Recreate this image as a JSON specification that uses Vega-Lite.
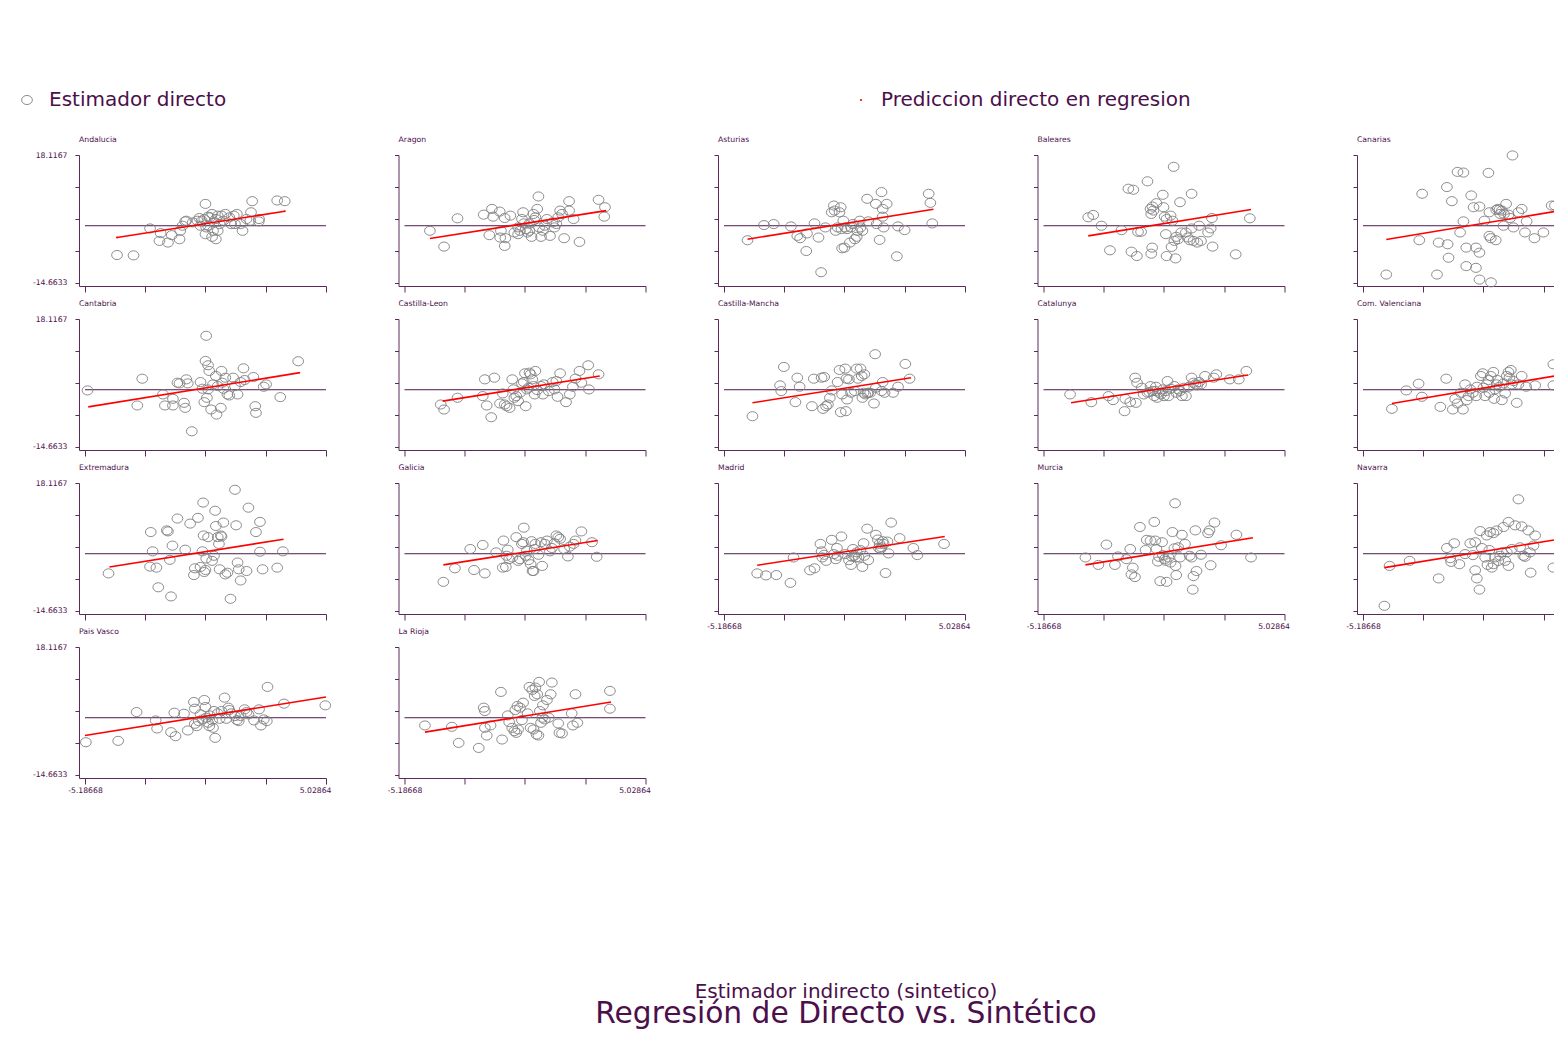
{
"$schema": "https://vega.github.io/schema/vega-lite/v6.json",
"background": "white",
"padding": {"left": 17, "top": 90, "right": 0, "bottom": 0},
"autosize": {"type": "pad"},
"columns": 5,
"spacing": {"row": 33, "column": 72.5},
"bounds": "flush",
"config": {
  "font": "DejaVu Sans",
  "view": {"stroke": null},
  "axis": {"grid": false, "domainColor": "#5b2a5b", "tickColor": "#5b2a5b", "labelColor": "#4b0f4b", "labelFont": "DejaVu Sans", "labelFontSize": 7.7, "domainWidth": 1, "tickWidth": 1},
  "axisX": {"tickSize": 6, "labelPadding": 2, "labelAngle": 0, "labelFlushOffset": 5},
  "axisY": {"tickSize": 4, "labelPadding": 8},
  "title": {"anchor": "start", "frame": "group", "fontSize": 7.7, "font": "DejaVu Sans", "fontWeight": "normal", "color": "#4b0f4b"},
  "legend": {"labelFont": "DejaVu Sans", "labelFontSize": 20, "labelColor": "#4b0f4b", "labelLimit": 600, "padding": 0}
},
"title": {"text": "Estimador indirecto (sintetico)", "subtitle": "Regresión de Directo vs. Sintético", "orient": "bottom", "anchor": "middle", "frame": "bounds", "offset": 188, "dx": 33, "fontSize": 20, "subtitleFontSize": 29.7, "font": "DejaVu Sans", "subtitleFont": "DejaVu Sans", "fontWeight": "normal", "color": "#4b0f4b", "subtitleColor": "#4b0f4b", "subtitlePadding": -2},
"datasets": {
"fit": [
{"r":"Andalucia","x":-3.83,"y":-3.02},{"r":"Andalucia","x":3.28,"y":3.71},
{"r":"Aragon","x":-4.11,"y":-3.28},{"r":"Aragon","x":3.36,"y":3.88},
{"r":"Asturias","x":-4.19,"y":-3.45},{"r":"Asturias","x":3.69,"y":4.22},
{"r":"Baleares","x":-3.29,"y":-2.59},{"r":"Baleares","x":3.61,"y":4.14},
{"r":"Canarias","x":-4.2,"y":-3.53},{"r":"Canarias","x":3.5,"y":4.2},
{"r":"Cantabria","x":-5.05,"y":-4.38},{"r":"Cantabria","x":3.93,"y":4.38},
{"r":"Castilla-Leon","x":-3.57,"y":-2.92},{"r":"Castilla-Leon","x":3.09,"y":3.52},
{"r":"Castilla-Mancha","x":-3.98,"y":-3.35},{"r":"Castilla-Mancha","x":2.74,"y":3.09},
{"r":"Catalunya","x":-4.02,"y":-3.35},{"r":"Catalunya","x":3.48,"y":3.78},
{"r":"Com. Valenciana","x":-3.96,"y":-3.52},{"r":"Com. Valenciana","x":3.4,"y":4.0},
{"r":"Extremadura","x":-4.15,"y":-3.38},{"r":"Extremadura","x":3.23,"y":3.73},
{"r":"Galicia","x":-3.54,"y":-2.86},{"r":"Galicia","x":3.0,"y":3.38},
{"r":"Madrid","x":-3.78,"y":-2.95},{"r":"Madrid","x":4.17,"y":4.42},
{"r":"Murcia","x":-3.41,"y":-2.86},{"r":"Murcia","x":3.69,"y":4.08},
{"r":"Navarra","x":-4.28,"y":-3.55},{"r":"Navarra","x":3.5,"y":4.1},
{"r":"Pais Vasco","x":-5.19,"y":-4.55},{"r":"Pais Vasco","x":5.03,"y":5.32},
{"r":"La Rioja","x":-4.32,"y":-3.69},{"r":"La Rioja","x":3.57,"y":4.03}
],
"pts": [
{"r":"Andalucia","x":-3.83,"y":-7.5},{"r":"Andalucia","x":-3.13,"y":-7.59},{"r":"Andalucia","x":-2.43,"y":-0.69},{"r":"Andalucia","x":-1.98,"y":-1.9},{"r":"Andalucia","x":-2.03,"y":-3.88},{"r":"Andalucia","x":-1.67,"y":-4.31},{"r":"Andalucia","x":-1.51,"y":-2.41},{"r":"Andalucia","x":-1.18,"y":-3.45},{"r":"Andalucia","x":-1.15,"y":-1.29},{"r":"Andalucia","x":-1.05,"y":0},{"r":"Andalucia","x":-0.94,"y":1.12},{"r":"Andalucia","x":-0.89,"y":1.29},{"r":"Andalucia","x":-0.42,"y":1.29},{"r":"Andalucia","x":-0.34,"y":1.98},{"r":"Andalucia","x":-0.24,"y":1.29},{"r":"Andalucia","x":-0.13,"y":1.72},{"r":"Andalucia","x":-0.08,"y":5.6},{"r":"Andalucia","x":-0.05,"y":-0.43},{"r":"Andalucia","x":-0.08,"y":-2.16},{"r":"Andalucia","x":0.03,"y":2.33},{"r":"Andalucia","x":0.11,"y":2.16},{"r":"Andalucia","x":0.2,"y":3.02},{"r":"Andalucia","x":0.28,"y":0.86},{"r":"Andalucia","x":0.36,"y":1.72},{"r":"Andalucia","x":0.44,"y":2.59},{"r":"Andalucia","x":0.24,"y":-1.29},{"r":"Andalucia","x":0.2,"y":-2.84},{"r":"Andalucia","x":0.36,"y":-3.45},{"r":"Andalucia","x":0.44,"y":-1.29},{"r":"Andalucia","x":0.6,"y":2.59},{"r":"Andalucia","x":0.68,"y":1.29},{"r":"Andalucia","x":0.76,"y":3.02},{"r":"Andalucia","x":1.12,"y":2.59},{"r":"Andalucia","x":1.25,"y":3.02},{"r":"Andalucia","x":1.17,"y":0.43},{"r":"Andalucia","x":1.41,"y":0.43},{"r":"Andalucia","x":1.49,"y":-1.29},{"r":"Andalucia","x":1.66,"y":1.72},{"r":"Andalucia","x":1.85,"y":3.45},{"r":"Andalucia","x":1.9,"y":6.29},{"r":"Andalucia","x":1.82,"y":1.29},{"r":"Andalucia","x":2.18,"y":1.12},{"r":"Andalucia","x":2.19,"y":1.72},{"r":"Andalucia","x":2.96,"y":6.47},{"r":"Andalucia","x":3.28,"y":6.29},{"r":"Andalucia","x":-0.62,"y":0.86},{"r":"Andalucia","x":-0.29,"y":0},{"r":"Andalucia","x":0.03,"y":0},{"r":"Andalucia","x":0.52,"y":0.43},{"r":"Andalucia","x":0.93,"y":2.16},{"r":"Andalucia","x":1.01,"y":0.43},
{"r":"Aragon","x":-4.11,"y":-1.29},{"r":"Aragon","x":-3.51,"y":-5.34},{"r":"Aragon","x":-2.94,"y":1.9},{"r":"Aragon","x":-1.83,"y":2.84},{"r":"Aragon","x":-1.48,"y":4.31},{"r":"Aragon","x":-1.43,"y":2.33},{"r":"Aragon","x":-1.15,"y":3.62},{"r":"Aragon","x":-0.94,"y":1.98},{"r":"Aragon","x":-0.7,"y":2.59},{"r":"Aragon","x":-1.59,"y":-2.41},{"r":"Aragon","x":-1.13,"y":-3.02},{"r":"Aragon","x":-0.94,"y":-5.17},{"r":"Aragon","x":-0.91,"y":-3.19},{"r":"Aragon","x":-1.1,"y":-1.29},{"r":"Aragon","x":-0.53,"y":-1.72},{"r":"Aragon","x":-0.37,"y":-2.16},{"r":"Aragon","x":-0.29,"y":-1.29},{"r":"Aragon","x":-0.21,"y":1.72},{"r":"Aragon","x":-0.16,"y":3.45},{"r":"Aragon","x":-0.05,"y":-0.86},{"r":"Aragon","x":0.03,"y":-1.72},{"r":"Aragon","x":0.11,"y":-1.29},{"r":"Aragon","x":0.2,"y":-2.84},{"r":"Aragon","x":0.28,"y":3.02},{"r":"Aragon","x":0.31,"y":1.47},{"r":"Aragon","x":0.36,"y":2.16},{"r":"Aragon","x":0.44,"y":4.31},{"r":"Aragon","x":0.49,"y":7.5},{"r":"Aragon","x":0.52,"y":-0.43},{"r":"Aragon","x":0.6,"y":-2.84},{"r":"Aragon","x":0.68,"y":-1.29},{"r":"Aragon","x":0.85,"y":1.72},{"r":"Aragon","x":0.98,"y":-2.59},{"r":"Aragon","x":1.17,"y":-0.43},{"r":"Aragon","x":1.25,"y":0.43},{"r":"Aragon","x":1.33,"y":2.16},{"r":"Aragon","x":1.41,"y":3.88},{"r":"Aragon","x":1.49,"y":3.02},{"r":"Aragon","x":1.58,"y":-3.19},{"r":"Aragon","x":1.79,"y":6.29},{"r":"Aragon","x":1.79,"y":3.88},{"r":"Aragon","x":1.98,"y":1.72},{"r":"Aragon","x":2.23,"y":-4.14},{"r":"Aragon","x":3.04,"y":6.64},{"r":"Aragon","x":3.31,"y":4.74},{"r":"Aragon","x":3.28,"y":2.33},{"r":"Aragon","x":-0.13,"y":0.6},{"r":"Aragon","x":0.11,"y":0.6},{"r":"Aragon","x":0.76,"y":0},{"r":"Aragon","x":1.09,"y":0.86},{"r":"Aragon","x":-0.37,"y":-0.43},
{"r":"Asturias","x":-4.19,"y":-3.71},{"r":"Asturias","x":-3.49,"y":0.17},{"r":"Asturias","x":-3.08,"y":0.43},{"r":"Asturias","x":-2.35,"y":-0.17},{"r":"Asturias","x":-2.08,"y":-2.59},{"r":"Asturias","x":-1.96,"y":-3.19},{"r":"Asturias","x":-1.67,"y":-1.98},{"r":"Asturias","x":-1.7,"y":-6.47},{"r":"Asturias","x":-1.35,"y":0.6},{"r":"Asturias","x":-1.18,"y":-3.02},{"r":"Asturias","x":-1.07,"y":-11.9},{"r":"Asturias","x":-0.89,"y":-0.43},{"r":"Asturias","x":-0.62,"y":3.45},{"r":"Asturias","x":-0.53,"y":5.17},{"r":"Asturias","x":-0.5,"y":3.88},{"r":"Asturias","x":-0.45,"y":-1.29},{"r":"Asturias","x":-0.24,"y":4.74},{"r":"Asturias","x":-0.29,"y":3.45},{"r":"Asturias","x":-0.21,"y":-0.86},{"r":"Asturias","x":-0.13,"y":1.29},{"r":"Asturias","x":-0.18,"y":-5.78},{"r":"Asturias","x":-0.08,"y":-5.6},{"r":"Asturias","x":-0.05,"y":-0.43},{"r":"Asturias","x":0.03,"y":-0.86},{"r":"Asturias","x":0.15,"y":-4.31},{"r":"Asturias","x":0.36,"y":-3.45},{"r":"Asturias","x":0.44,"y":-2.84},{"r":"Asturias","x":0.47,"y":-1.29},{"r":"Asturias","x":0.57,"y":1.29},{"r":"Asturias","x":0.6,"y":-0.43},{"r":"Asturias","x":0.68,"y":-1.29},{"r":"Asturias","x":0.88,"y":6.9},{"r":"Asturias","x":0.93,"y":1.12},{"r":"Asturias","x":1.25,"y":5.6},{"r":"Asturias","x":1.28,"y":0.43},{"r":"Asturias","x":1.41,"y":-3.62},{"r":"Asturias","x":1.49,"y":8.62},{"r":"Asturias","x":1.54,"y":4.31},{"r":"Asturias","x":1.54,"y":2.33},{"r":"Asturias","x":1.58,"y":-0.43},{"r":"Asturias","x":1.71,"y":5.6},{"r":"Asturias","x":2.14,"y":-7.84},{"r":"Asturias","x":2.19,"y":-0.17},{"r":"Asturias","x":2.47,"y":-1.12},{"r":"Asturias","x":3.49,"y":8.19},{"r":"Asturias","x":3.56,"y":5.86},{"r":"Asturias","x":3.64,"y":0.6},{"r":"Asturias","x":0.2,"y":-0.43},{"r":"Asturias","x":0.28,"y":0.43},{"r":"Asturias","x":-0.37,"y":-0.43},
{"r":"Baleares","x":-3.29,"y":2.16},{"r":"Baleares","x":-3.08,"y":2.76},{"r":"Baleares","x":-2.73,"y":0},{"r":"Baleares","x":-2.37,"y":-6.29},{"r":"Baleares","x":-1.88,"y":-1.12},{"r":"Baleares","x":-1.59,"y":9.48},{"r":"Baleares","x":-1.38,"y":9.22},{"r":"Baleares","x":-1.46,"y":-6.64},{"r":"Baleares","x":-1.23,"y":-7.76},{"r":"Baleares","x":-1.18,"y":-1.55},{"r":"Baleares","x":-1.05,"y":-1.55},{"r":"Baleares","x":-0.78,"y":11.38},{"r":"Baleares","x":-0.65,"y":4.31},{"r":"Baleares","x":-0.62,"y":3.02},{"r":"Baleares","x":-0.57,"y":4.91},{"r":"Baleares","x":-0.53,"y":3.88},{"r":"Baleares","x":-0.4,"y":5.78},{"r":"Baleares","x":-0.58,"y":-5.6},{"r":"Baleares","x":-0.62,"y":-7.16},{"r":"Baleares","x":-0.13,"y":7.93},{"r":"Baleares","x":-0.1,"y":4.74},{"r":"Baleares","x":-0.05,"y":2.33},{"r":"Baleares","x":0.03,"y":1.72},{"r":"Baleares","x":0.0,"y":-2.16},{"r":"Baleares","x":0.03,"y":-7.76},{"r":"Baleares","x":0.24,"y":-5.43},{"r":"Baleares","x":0.36,"y":-3.88},{"r":"Baleares","x":0.41,"y":-8.36},{"r":"Baleares","x":0.33,"y":15.09},{"r":"Baleares","x":0.2,"y":2.59},{"r":"Baleares","x":0.28,"y":1.29},{"r":"Baleares","x":0.44,"y":-2.84},{"r":"Baleares","x":0.52,"y":-3.45},{"r":"Baleares","x":0.6,"y":6.03},{"r":"Baleares","x":0.65,"y":-1.72},{"r":"Baleares","x":0.85,"y":-1.72},{"r":"Baleares","x":0.93,"y":-3.02},{"r":"Baleares","x":1.01,"y":-3.71},{"r":"Baleares","x":1.09,"y":8.19},{"r":"Baleares","x":1.09,"y":-0.69},{"r":"Baleares","x":1.17,"y":-3.88},{"r":"Baleares","x":1.33,"y":-4.31},{"r":"Baleares","x":1.41,"y":0},{"r":"Baleares","x":1.49,"y":-3.88},{"r":"Baleares","x":1.79,"y":-1.72},{"r":"Baleares","x":1.9,"y":-0.69},{"r":"Baleares","x":1.95,"y":1.98},{"r":"Baleares","x":1.98,"y":-5.34},{"r":"Baleares","x":2.96,"y":-7.33},{"r":"Baleares","x":3.56,"y":1.9},
{"r":"Canarias","x":-4.2,"y":-12.5},{"r":"Canarias","x":-2.8,"y":-3.71},{"r":"Canarias","x":-2.68,"y":8.19},{"r":"Canarias","x":-2.05,"y":-12.5},{"r":"Canarias","x":-1.98,"y":-4.31},{"r":"Canarias","x":-1.63,"y":9.91},{"r":"Canarias","x":-1.6,"y":-4.74},{"r":"Canarias","x":-1.56,"y":-8.19},{"r":"Canarias","x":-1.42,"y":6.29},{"r":"Canarias","x":-1.18,"y":13.79},{"r":"Canarias","x":-0.93,"y":13.62},{"r":"Canarias","x":-1.07,"y":-1.72},{"r":"Canarias","x":-0.93,"y":1.12},{"r":"Canarias","x":-0.81,"y":-5.6},{"r":"Canarias","x":-0.81,"y":-10.34},{"r":"Canarias","x":-0.6,"y":7.76},{"r":"Canarias","x":-0.5,"y":4.74},{"r":"Canarias","x":-0.4,"y":-5.6},{"r":"Canarias","x":-0.4,"y":-10.78},{"r":"Canarias","x":-0.25,"y":4.91},{"r":"Canarias","x":-0.25,"y":-6.9},{"r":"Canarias","x":-0.25,"y":-13.79},{"r":"Canarias","x":-0.04,"y":1.29},{"r":"Canarias","x":0.13,"y":13.53},{"r":"Canarias","x":0.17,"y":3.45},{"r":"Canarias","x":0.17,"y":-2.59},{"r":"Canarias","x":0.23,"y":-3.19},{"r":"Canarias","x":0.24,"y":-14.5},{"r":"Canarias","x":0.44,"y":-3.71},{"r":"Canarias","x":0.46,"y":4.05},{"r":"Canarias","x":0.53,"y":4.31},{"r":"Canarias","x":0.6,"y":4.14},{"r":"Canarias","x":0.63,"y":3.02},{"r":"Canarias","x":0.7,"y":3.88},{"r":"Canarias","x":0.77,"y":0},{"r":"Canarias","x":0.79,"y":3.02},{"r":"Canarias","x":0.88,"y":5.6},{"r":"Canarias","x":0.98,"y":2.84},{"r":"Canarias","x":1.05,"y":1.98},{"r":"Canarias","x":1.15,"y":18.0},{"r":"Canarias","x":1.19,"y":-0.43},{"r":"Canarias","x":1.4,"y":3.45},{"r":"Canarias","x":1.54,"y":4.31},{"r":"Canarias","x":1.68,"y":-1.72},{"r":"Canarias","x":1.75,"y":1.12},{"r":"Canarias","x":2.08,"y":-3.19},{"r":"Canarias","x":2.46,"y":-1.72},{"r":"Canarias","x":2.81,"y":5.17},{"r":"Canarias","x":2.95,"y":5.17},
{"r":"Cantabria","x":-5.08,"y":-0.17},{"r":"Cantabria","x":-2.97,"y":-4.03},{"r":"Cantabria","x":-2.76,"y":2.83},{"r":"Cantabria","x":-1.88,"y":-1.2},{"r":"Cantabria","x":-1.8,"y":-4.03},{"r":"Cantabria","x":-1.46,"y":-4.03},{"r":"Cantabria","x":-1.46,"y":-2.32},{"r":"Cantabria","x":-1.27,"y":1.8},{"r":"Cantabria","x":-1.18,"y":1.63},{"r":"Cantabria","x":-0.99,"y":-3.35},{"r":"Cantabria","x":-0.94,"y":-4.64},{"r":"Cantabria","x":-0.89,"y":2.66},{"r":"Cantabria","x":-0.83,"y":1.63},{"r":"Cantabria","x":-0.66,"y":-10.64},{"r":"Cantabria","x":-0.29,"y":1.97},{"r":"Cantabria","x":-0.21,"y":0.26},{"r":"Cantabria","x":-0.13,"y":-3.18},{"r":"Cantabria","x":-0.08,"y":7.38},{"r":"Cantabria","x":-0.05,"y":13.82},{"r":"Cantabria","x":-0.02,"y":-2.06},{"r":"Cantabria","x":0.03,"y":6.27},{"r":"Cantabria","x":0.03,"y":0.09},{"r":"Cantabria","x":0.08,"y":4.81},{"r":"Cantabria","x":0.16,"y":-5.06},{"r":"Cantabria","x":0.24,"y":1.37},{"r":"Cantabria","x":0.36,"y":3.52},{"r":"Cantabria","x":0.39,"y":-6.35},{"r":"Cantabria","x":0.44,"y":0.94},{"r":"Cantabria","x":0.57,"y":-4.64},{"r":"Cantabria","x":0.6,"y":4.81},{"r":"Cantabria","x":0.63,"y":1.8},{"r":"Cantabria","x":0.68,"y":0.26},{"r":"Cantabria","x":0.76,"y":3.09},{"r":"Cantabria","x":0.85,"y":-1.2},{"r":"Cantabria","x":0.93,"y":-1.46},{"r":"Cantabria","x":1.09,"y":3.09},{"r":"Cantabria","x":1.17,"y":0.94},{"r":"Cantabria","x":1.28,"y":-1.2},{"r":"Cantabria","x":1.41,"y":1.97},{"r":"Cantabria","x":1.53,"y":5.49},{"r":"Cantabria","x":1.58,"y":2.49},{"r":"Cantabria","x":1.95,"y":3.26},{"r":"Cantabria","x":2.03,"y":-4.21},{"r":"Cantabria","x":2.06,"y":-5.92},{"r":"Cantabria","x":2.39,"y":0.77},{"r":"Cantabria","x":2.49,"y":1.37},{"r":"Cantabria","x":3.09,"y":-1.89},{"r":"Cantabria","x":3.85,"y":7.3},
{"r":"Castilla-Leon","x":-3.65,"y":-3.78},{"r":"Castilla-Leon","x":-3.51,"y":-5.06},{"r":"Castilla-Leon","x":-2.94,"y":-2.06},{"r":"Castilla-Leon","x":-1.87,"y":-1.63},{"r":"Castilla-Leon","x":-1.78,"y":2.66},{"r":"Castilla-Leon","x":-1.7,"y":-4.03},{"r":"Castilla-Leon","x":-1.38,"y":3.09},{"r":"Castilla-Leon","x":-1.51,"y":-7.04},{"r":"Castilla-Leon","x":-1.14,"y":-3.52},{"r":"Castilla-Leon","x":-1.02,"y":-0.94},{"r":"Castilla-Leon","x":-0.94,"y":-3.78},{"r":"Castilla-Leon","x":-0.86,"y":-4.21},{"r":"Castilla-Leon","x":-0.73,"y":-4.64},{"r":"Castilla-Leon","x":-0.62,"y":2.66},{"r":"Castilla-Leon","x":-0.57,"y":0.09},{"r":"Castilla-Leon","x":-0.53,"y":-2.06},{"r":"Castilla-Leon","x":-0.45,"y":-1.63},{"r":"Castilla-Leon","x":-0.37,"y":-2.92},{"r":"Castilla-Leon","x":-0.21,"y":1.63},{"r":"Castilla-Leon","x":-0.13,"y":1.97},{"r":"Castilla-Leon","x":-0.08,"y":4.21},{"r":"Castilla-Leon","x":-0.05,"y":-4.21},{"r":"Castilla-Leon","x":0.0,"y":0.09},{"r":"Castilla-Leon","x":0.07,"y":0.52},{"r":"Castilla-Leon","x":0.11,"y":4.38},{"r":"Castilla-Leon","x":0.16,"y":3.95},{"r":"Castilla-Leon","x":0.23,"y":2.66},{"r":"Castilla-Leon","x":0.28,"y":0.94},{"r":"Castilla-Leon","x":0.33,"y":-1.2},{"r":"Castilla-Leon","x":0.36,"y":4.81},{"r":"Castilla-Leon","x":0.44,"y":-0.09},{"r":"Castilla-Leon","x":0.6,"y":0.94},{"r":"Castilla-Leon","x":0.68,"y":-1.2},{"r":"Castilla-Leon","x":0.93,"y":-0.34},{"r":"Castilla-Leon","x":1.09,"y":1.97},{"r":"Castilla-Leon","x":1.17,"y":0.09},{"r":"Castilla-Leon","x":1.25,"y":2.23},{"r":"Castilla-Leon","x":1.3,"y":-1.8},{"r":"Castilla-Leon","x":1.41,"y":4.21},{"r":"Castilla-Leon","x":1.66,"y":-3.18},{"r":"Castilla-Leon","x":1.82,"y":-1.2},{"r":"Castilla-Leon","x":1.95,"y":0.77},{"r":"Castilla-Leon","x":2.06,"y":2.83},{"r":"Castilla-Leon","x":2.23,"y":4.81},{"r":"Castilla-Leon","x":2.31,"y":1.8},{"r":"Castilla-Leon","x":2.6,"y":6.27},{"r":"Castilla-Leon","x":2.63,"y":0.09},{"r":"Castilla-Leon","x":3.04,"y":3.95},{"r":"Castilla-Leon","x":0.72,"y":1.37},{"r":"Castilla-Leon","x":-0.29,"y":-0.77},
{"r":"Castilla-Mancha","x":-3.98,"y":-6.78},{"r":"Castilla-Mancha","x":-2.81,"y":1.12},{"r":"Castilla-Mancha","x":-2.76,"y":-0.34},{"r":"Castilla-Mancha","x":-2.65,"y":5.84},{"r":"Castilla-Mancha","x":-2.16,"y":-3.18},{"r":"Castilla-Mancha","x":-2.08,"y":3.09},{"r":"Castilla-Mancha","x":-1.98,"y":0.77},{"r":"Castilla-Mancha","x":-1.46,"y":-4.21},{"r":"Castilla-Mancha","x":-1.38,"y":2.83},{"r":"Castilla-Mancha","x":-1.05,"y":3.09},{"r":"Castilla-Mancha","x":-0.99,"y":-4.89},{"r":"Castilla-Mancha","x":-0.94,"y":3.26},{"r":"Castilla-Mancha","x":-0.86,"y":-4.21},{"r":"Castilla-Mancha","x":-0.78,"y":-3.78},{"r":"Castilla-Mancha","x":-0.7,"y":-2.06},{"r":"Castilla-Mancha","x":-0.62,"y":-0.17},{"r":"Castilla-Mancha","x":-0.37,"y":1.97},{"r":"Castilla-Mancha","x":-0.29,"y":5.06},{"r":"Castilla-Mancha","x":-0.24,"y":-5.75},{"r":"Castilla-Mancha","x":-0.18,"y":-1.2},{"r":"Castilla-Mancha","x":-0.05,"y":5.41},{"r":"Castilla-Mancha","x":-0.02,"y":-5.49},{"r":"Castilla-Mancha","x":0.0,"y":2.83},{"r":"Castilla-Mancha","x":0.03,"y":-2.49},{"r":"Castilla-Mancha","x":0.11,"y":2.66},{"r":"Castilla-Mancha","x":0.2,"y":-0.77},{"r":"Castilla-Mancha","x":0.36,"y":-0.34},{"r":"Castilla-Mancha","x":0.44,"y":5.41},{"r":"Castilla-Mancha","x":0.49,"y":2.83},{"r":"Castilla-Mancha","x":0.6,"y":5.41},{"r":"Castilla-Mancha","x":0.65,"y":3.52},{"r":"Castilla-Mancha","x":0.68,"y":-2.06},{"r":"Castilla-Mancha","x":0.73,"y":-0.77},{"r":"Castilla-Mancha","x":0.76,"y":3.95},{"r":"Castilla-Mancha","x":0.8,"y":-1.2},{"r":"Castilla-Mancha","x":0.89,"y":-0.94},{"r":"Castilla-Mancha","x":0.93,"y":-0.77},{"r":"Castilla-Mancha","x":1.01,"y":-0.77},{"r":"Castilla-Mancha","x":1.17,"y":-3.52},{"r":"Castilla-Mancha","x":1.22,"y":9.1},{"r":"Castilla-Mancha","x":1.25,"y":0.52},{"r":"Castilla-Mancha","x":1.49,"y":-0.34},{"r":"Castilla-Mancha","x":1.54,"y":1.97},{"r":"Castilla-Mancha","x":1.62,"y":-0.77},{"r":"Castilla-Mancha","x":1.98,"y":-0.77},{"r":"Castilla-Mancha","x":2.19,"y":0.77},{"r":"Castilla-Mancha","x":2.5,"y":6.61},{"r":"Castilla-Mancha","x":2.68,"y":2.83},
{"r":"Catalunya","x":-4.06,"y":-1.2},{"r":"Catalunya","x":-3.16,"y":-3.18},{"r":"Catalunya","x":-2.43,"y":-1.63},{"r":"Catalunya","x":-2.24,"y":-2.66},{"r":"Catalunya","x":-1.75,"y":-5.49},{"r":"Catalunya","x":-1.72,"y":-2.32},{"r":"Catalunya","x":-1.51,"y":-3.18},{"r":"Catalunya","x":-1.3,"y":3.09},{"r":"Catalunya","x":-1.22,"y":1.8},{"r":"Catalunya","x":-1.27,"y":-3.35},{"r":"Catalunya","x":-1.02,"y":0.52},{"r":"Catalunya","x":-0.94,"y":-1.2},{"r":"Catalunya","x":-0.78,"y":-0.77},{"r":"Catalunya","x":-0.65,"y":0.94},{"r":"Catalunya","x":-0.57,"y":-0.34},{"r":"Catalunya","x":-0.49,"y":-1.63},{"r":"Catalunya","x":-0.42,"y":0.77},{"r":"Catalunya","x":-0.37,"y":-2.06},{"r":"Catalunya","x":-0.29,"y":-0.77},{"r":"Catalunya","x":-0.21,"y":-1.2},{"r":"Catalunya","x":-0.13,"y":0.09},{"r":"Catalunya","x":-0.08,"y":-1.63},{"r":"Catalunya","x":0.0,"y":-0.34},{"r":"Catalunya","x":0.07,"y":2.23},{"r":"Catalunya","x":0.11,"y":-1.63},{"r":"Catalunya","x":0.2,"y":0.26},{"r":"Catalunya","x":0.36,"y":0.94},{"r":"Catalunya","x":0.44,"y":-0.77},{"r":"Catalunya","x":0.6,"y":-0.34},{"r":"Catalunya","x":0.68,"y":-1.63},{"r":"Catalunya","x":0.76,"y":0.52},{"r":"Catalunya","x":0.85,"y":-1.63},{"r":"Catalunya","x":0.98,"y":0.77},{"r":"Catalunya","x":1.09,"y":3.09},{"r":"Catalunya","x":1.17,"y":1.8},{"r":"Catalunya","x":1.25,"y":1.37},{"r":"Catalunya","x":1.33,"y":1.12},{"r":"Catalunya","x":1.41,"y":1.97},{"r":"Catalunya","x":1.49,"y":1.37},{"r":"Catalunya","x":1.66,"y":3.52},{"r":"Catalunya","x":2.03,"y":3.09},{"r":"Catalunya","x":2.14,"y":3.95},{"r":"Catalunya","x":2.71,"y":2.66},{"r":"Catalunya","x":3.09,"y":2.66},{"r":"Catalunya","x":3.41,"y":4.81},{"r":"Catalunya","x":-0.7,"y":-0.6},{"r":"Catalunya","x":0.52,"y":0.09},{"r":"Catalunya","x":-0.45,"y":-0.34},
{"r":"Com. Valenciana","x":-3.96,"y":-4.89},{"r":"Com. Valenciana","x":-3.35,"y":-0.17},{"r":"Com. Valenciana","x":-2.83,"y":1.55},{"r":"Com. Valenciana","x":-2.69,"y":-1.8},{"r":"Com. Valenciana","x":-1.91,"y":-4.38},{"r":"Com. Valenciana","x":-1.66,"y":2.83},{"r":"Com. Valenciana","x":-1.38,"y":-5.06},{"r":"Com. Valenciana","x":-1.28,"y":-2.32},{"r":"Com. Valenciana","x":-1.18,"y":-3.52},{"r":"Com. Valenciana","x":-1.04,"y":-0.77},{"r":"Com. Valenciana","x":-0.95,"y":-5.06},{"r":"Com. Valenciana","x":-0.86,"y":1.37},{"r":"Com. Valenciana","x":-0.79,"y":-2.66},{"r":"Com. Valenciana","x":-0.71,"y":-1.63},{"r":"Com. Valenciana","x":-0.64,"y":0.09},{"r":"Com. Valenciana","x":-0.53,"y":-0.77},{"r":"Com. Valenciana","x":-0.39,"y":-1.63},{"r":"Com. Valenciana","x":-0.36,"y":0.77},{"r":"Com. Valenciana","x":-0.19,"y":3.52},{"r":"Com. Valenciana","x":-0.11,"y":4.21},{"r":"Com. Valenciana","x":-0.08,"y":0.52},{"r":"Com. Valenciana","x":-0.01,"y":-1.63},{"r":"Com. Valenciana","x":0.06,"y":1.37},{"r":"Com. Valenciana","x":0.13,"y":2.49},{"r":"Com. Valenciana","x":0.17,"y":-0.77},{"r":"Com. Valenciana","x":0.23,"y":3.52},{"r":"Com. Valenciana","x":0.34,"y":4.55},{"r":"Com. Valenciana","x":0.37,"y":-2.32},{"r":"Com. Valenciana","x":0.41,"y":0.09},{"r":"Com. Valenciana","x":0.48,"y":1.37},{"r":"Com. Valenciana","x":0.51,"y":2.49},{"r":"Com. Valenciana","x":0.6,"y":0.77},{"r":"Com. Valenciana","x":0.7,"y":-2.66},{"r":"Com. Valenciana","x":0.77,"y":1.63},{"r":"Com. Valenciana","x":0.84,"y":-0.94},{"r":"Com. Valenciana","x":0.91,"y":3.52},{"r":"Com. Valenciana","x":0.98,"y":4.55},{"r":"Com. Valenciana","x":1.02,"y":3.09},{"r":"Com. Valenciana","x":1.08,"y":5.06},{"r":"Com. Valenciana","x":1.12,"y":1.37},{"r":"Com. Valenciana","x":1.19,"y":2.23},{"r":"Com. Valenciana","x":1.33,"y":-3.35},{"r":"Com. Valenciana","x":1.4,"y":1.37},{"r":"Com. Valenciana","x":1.54,"y":3.52},{"r":"Com. Valenciana","x":1.73,"y":0.77},{"r":"Com. Valenciana","x":2.11,"y":1.12},{"r":"Com. Valenciana","x":2.88,"y":6.52},{"r":"Com. Valenciana","x":2.88,"y":1.12},
{"r":"Extremadura","x":-4.19,"y":-5.03},{"r":"Extremadura","x":-2.43,"y":-3.3},{"r":"Extremadura","x":-2.4,"y":5.55},{"r":"Extremadura","x":-2.32,"y":0.61},{"r":"Extremadura","x":-2.16,"y":-3.56},{"r":"Extremadura","x":-2.08,"y":-8.59},{"r":"Extremadura","x":-1.72,"y":5.98},{"r":"Extremadura","x":-1.67,"y":5.72},{"r":"Extremadura","x":-1.59,"y":-1.56},{"r":"Extremadura","x":-1.54,"y":-10.93},{"r":"Extremadura","x":-1.48,"y":2.08},{"r":"Extremadura","x":-1.27,"y":9.02},{"r":"Extremadura","x":-0.94,"y":1.04},{"r":"Extremadura","x":-0.73,"y":7.72},{"r":"Extremadura","x":-0.57,"y":-5.46},{"r":"Extremadura","x":-0.53,"y":-3.73},{"r":"Extremadura","x":-0.4,"y":9.19},{"r":"Extremadura","x":-0.29,"y":-3.38},{"r":"Extremadura","x":-0.21,"y":0.61},{"r":"Extremadura","x":-0.18,"y":13.1},{"r":"Extremadura","x":-0.16,"y":4.68},{"r":"Extremadura","x":-0.13,"y":-4.68},{"r":"Extremadura","x":-0.08,"y":-4.16},{"r":"Extremadura","x":-0.05,"y":-1.21},{"r":"Extremadura","x":0.03,"y":4.25},{"r":"Extremadura","x":0.2,"y":-1.82},{"r":"Extremadura","x":0.28,"y":-0.52},{"r":"Extremadura","x":0.33,"y":11.01},{"r":"Extremadura","x":0.36,"y":7.11},{"r":"Extremadura","x":0.44,"y":4.25},{"r":"Extremadura","x":0.49,"y":2.52},{"r":"Extremadura","x":0.52,"y":-3.99},{"r":"Extremadura","x":0.57,"y":4.68},{"r":"Extremadura","x":0.6,"y":4.42},{"r":"Extremadura","x":0.68,"y":7.98},{"r":"Extremadura","x":0.76,"y":-5.29},{"r":"Extremadura","x":0.85,"y":-4.86},{"r":"Extremadura","x":0.98,"y":-11.54},{"r":"Extremadura","x":1.17,"y":16.39},{"r":"Extremadura","x":1.22,"y":7.29},{"r":"Extremadura","x":1.28,"y":-2.25},{"r":"Extremadura","x":1.33,"y":-3.99},{"r":"Extremadura","x":1.41,"y":-6.85},{"r":"Extremadura","x":1.66,"y":-4.42},{"r":"Extremadura","x":1.74,"y":11.8},{"r":"Extremadura","x":2.06,"y":5.55},{"r":"Extremadura","x":2.23,"y":8.15},{"r":"Extremadura","x":2.23,"y":0.52},{"r":"Extremadura","x":2.34,"y":-3.99},{"r":"Extremadura","x":2.96,"y":-3.56},{"r":"Extremadura","x":3.2,"y":0.61},
{"r":"Galicia","x":-3.54,"y":-7.2},{"r":"Galicia","x":-3.05,"y":-3.73},{"r":"Galicia","x":-2.4,"y":1.21},{"r":"Galicia","x":-2.24,"y":-4.16},{"r":"Galicia","x":-1.87,"y":2.25},{"r":"Galicia","x":-1.78,"y":-5.03},{"r":"Galicia","x":-1.3,"y":0.35},{"r":"Galicia","x":-1.02,"y":-3.56},{"r":"Galicia","x":-0.99,"y":3.38},{"r":"Galicia","x":-0.89,"y":-3.38},{"r":"Galicia","x":-0.86,"y":-0.52},{"r":"Galicia","x":-0.81,"y":1.04},{"r":"Galicia","x":-0.75,"y":-1.39},{"r":"Galicia","x":-0.62,"y":-0.95},{"r":"Galicia","x":-0.45,"y":4.25},{"r":"Galicia","x":-0.37,"y":-1.82},{"r":"Galicia","x":-0.29,"y":-1.39},{"r":"Galicia","x":-0.21,"y":2.52},{"r":"Galicia","x":-0.16,"y":2.95},{"r":"Galicia","x":-0.13,"y":6.68},{"r":"Galicia","x":-0.05,"y":-0.52},{"r":"Galicia","x":0.0,"y":0.78},{"r":"Galicia","x":0.07,"y":-1.65},{"r":"Galicia","x":0.16,"y":-2.69},{"r":"Galicia","x":0.2,"y":3.21},{"r":"Galicia","x":0.24,"y":-4.42},{"r":"Galicia","x":0.28,"y":-4.42},{"r":"Galicia","x":0.33,"y":1.21},{"r":"Galicia","x":0.36,"y":2.52},{"r":"Galicia","x":0.49,"y":-0.26},{"r":"Galicia","x":0.6,"y":2.95},{"r":"Galicia","x":0.65,"y":-3.12},{"r":"Galicia","x":0.76,"y":2.52},{"r":"Galicia","x":0.85,"y":3.38},{"r":"Galicia","x":0.98,"y":0.61},{"r":"Galicia","x":1.06,"y":1.47},{"r":"Galicia","x":1.17,"y":2.69},{"r":"Galicia","x":1.25,"y":4.68},{"r":"Galicia","x":1.33,"y":4.25},{"r":"Galicia","x":1.41,"y":3.82},{"r":"Galicia","x":1.58,"y":1.21},{"r":"Galicia","x":1.74,"y":-0.69},{"r":"Galicia","x":1.82,"y":1.82},{"r":"Galicia","x":1.98,"y":2.52},{"r":"Galicia","x":2.06,"y":3.38},{"r":"Galicia","x":2.31,"y":5.72},{"r":"Galicia","x":2.76,"y":2.95},{"r":"Galicia","x":2.96,"y":-0.78},
{"r":"Madrid","x":-3.78,"y":-5.03},{"r":"Madrid","x":-3.41,"y":-5.55},{"r":"Madrid","x":-2.97,"y":-5.46},{"r":"Madrid","x":-2.37,"y":-7.46},{"r":"Madrid","x":-2.24,"y":-0.95},{"r":"Madrid","x":-1.54,"y":-4.25},{"r":"Madrid","x":-1.35,"y":-3.73},{"r":"Madrid","x":-1.1,"y":2.52},{"r":"Madrid","x":-1.05,"y":0.61},{"r":"Madrid","x":-1.02,"y":-0.95},{"r":"Madrid","x":-0.94,"y":-0.26},{"r":"Madrid","x":-0.86,"y":-1.82},{"r":"Madrid","x":-0.62,"y":3.56},{"r":"Madrid","x":-0.53,"y":-0.09},{"r":"Madrid","x":-0.45,"y":-1.39},{"r":"Madrid","x":-0.4,"y":1.47},{"r":"Madrid","x":-0.37,"y":-0.52},{"r":"Madrid","x":-0.21,"y":4.42},{"r":"Madrid","x":0.11,"y":-1.65},{"r":"Madrid","x":0.2,"y":-2.86},{"r":"Madrid","x":0.28,"y":1.21},{"r":"Madrid","x":0.33,"y":-0.52},{"r":"Madrid","x":0.41,"y":-0.95},{"r":"Madrid","x":0.44,"y":0.35},{"r":"Madrid","x":0.6,"y":0.95},{"r":"Madrid","x":0.68,"y":-3.38},{"r":"Madrid","x":0.73,"y":2.69},{"r":"Madrid","x":0.76,"y":-0.52},{"r":"Madrid","x":0.93,"y":-1.65},{"r":"Madrid","x":0.88,"y":6.42},{"r":"Madrid","x":1.25,"y":4.86},{"r":"Madrid","x":1.33,"y":3.64},{"r":"Madrid","x":1.38,"y":1.47},{"r":"Madrid","x":1.41,"y":2.52},{"r":"Madrid","x":1.45,"y":1.21},{"r":"Madrid","x":1.49,"y":1.65},{"r":"Madrid","x":1.54,"y":3.21},{"r":"Madrid","x":1.58,"y":2.52},{"r":"Madrid","x":1.66,"y":-4.94},{"r":"Madrid","x":1.74,"y":3.12},{"r":"Madrid","x":1.79,"y":0.09},{"r":"Madrid","x":1.9,"y":7.98},{"r":"Madrid","x":2.26,"y":3.99},{"r":"Madrid","x":2.84,"y":1.47},{"r":"Madrid","x":3.01,"y":-0.35},{"r":"Madrid","x":4.14,"y":2.52},{"r":"Madrid","x":0.24,"y":-0.78},{"r":"Madrid","x":0.52,"y":-0.95},{"r":"Madrid","x":-0.05,"y":-0.09},
{"r":"Murcia","x":-3.41,"y":-0.95},{"r":"Murcia","x":-2.86,"y":-2.86},{"r":"Murcia","x":-2.52,"y":2.34},{"r":"Murcia","x":-2.16,"y":-2.86},{"r":"Murcia","x":-2.03,"y":-0.69},{"r":"Murcia","x":-1.67,"y":-1.39},{"r":"Murcia","x":-1.51,"y":1.21},{"r":"Murcia","x":-1.46,"y":-5.29},{"r":"Murcia","x":-1.4,"y":-3.56},{"r":"Murcia","x":-1.31,"y":-5.98},{"r":"Murcia","x":-1.1,"y":6.85},{"r":"Murcia","x":-0.86,"y":0.95},{"r":"Murcia","x":-0.81,"y":3.56},{"r":"Murcia","x":-0.65,"y":3.38},{"r":"Murcia","x":-0.49,"y":8.15},{"r":"Murcia","x":-0.45,"y":3.38},{"r":"Murcia","x":-0.4,"y":1.21},{"r":"Murcia","x":-0.34,"y":-1.99},{"r":"Murcia","x":-0.29,"y":-0.78},{"r":"Murcia","x":-0.24,"y":-7.03},{"r":"Murcia","x":-0.16,"y":2.95},{"r":"Murcia","x":-0.13,"y":-0.35},{"r":"Murcia","x":-0.05,"y":-1.39},{"r":"Murcia","x":0.0,"y":-1.82},{"r":"Murcia","x":0.03,"y":-7.2},{"r":"Murcia","x":0.11,"y":-0.95},{"r":"Murcia","x":0.2,"y":-2.25},{"r":"Murcia","x":0.28,"y":5.55},{"r":"Murcia","x":0.36,"y":1.39},{"r":"Murcia","x":0.39,"y":12.92},{"r":"Murcia","x":0.41,"y":-3.12},{"r":"Murcia","x":0.44,"y":-5.46},{"r":"Murcia","x":0.52,"y":1.65},{"r":"Murcia","x":0.6,"y":-0.95},{"r":"Murcia","x":0.68,"y":4.86},{"r":"Murcia","x":0.81,"y":2.52},{"r":"Murcia","x":1.01,"y":-0.52},{"r":"Murcia","x":1.09,"y":-0.95},{"r":"Murcia","x":1.14,"y":-9.19},{"r":"Murcia","x":1.17,"y":-5.72},{"r":"Murcia","x":1.25,"y":5.98},{"r":"Murcia","x":1.3,"y":-4.42},{"r":"Murcia","x":1.49,"y":-0.26},{"r":"Murcia","x":1.79,"y":5.29},{"r":"Murcia","x":1.85,"y":5.98},{"r":"Murcia","x":1.9,"y":-2.95},{"r":"Murcia","x":2.06,"y":7.98},{"r":"Murcia","x":2.34,"y":2.17},{"r":"Murcia","x":2.99,"y":4.86},{"r":"Murcia","x":3.61,"y":-0.95},
{"r":"Navarra","x":-4.28,"y":-13.33},{"r":"Navarra","x":-4.06,"y":-3.12},{"r":"Navarra","x":-3.21,"y":-1.82},{"r":"Navarra","x":-1.98,"y":-6.32},{"r":"Navarra","x":-1.63,"y":1.47},{"r":"Navarra","x":-1.49,"y":-1.13},{"r":"Navarra","x":-1.45,"y":-2.08},{"r":"Navarra","x":-1.32,"y":2.68},{"r":"Navarra","x":-1.1,"y":-2.68},{"r":"Navarra","x":-0.86,"y":-0.09},{"r":"Navarra","x":-0.64,"y":2.68},{"r":"Navarra","x":-0.53,"y":-0.35},{"r":"Navarra","x":-0.43,"y":2.94},{"r":"Navarra","x":-0.43,"y":-4.24},{"r":"Navarra","x":-0.36,"y":-6.32},{"r":"Navarra","x":-0.25,"y":-9.18},{"r":"Navarra","x":-0.22,"y":5.8},{"r":"Navarra","x":-0.15,"y":1.47},{"r":"Navarra","x":-0.01,"y":-0.95},{"r":"Navarra","x":0.06,"y":4.68},{"r":"Navarra","x":0.09,"y":-2.86},{"r":"Navarra","x":0.17,"y":0.95},{"r":"Navarra","x":0.2,"y":5.54},{"r":"Navarra","x":0.27,"y":-3.55},{"r":"Navarra","x":0.34,"y":-2.68},{"r":"Navarra","x":0.34,"y":5.28},{"r":"Navarra","x":0.41,"y":-0.95},{"r":"Navarra","x":0.48,"y":5.97},{"r":"Navarra","x":0.55,"y":-1.82},{"r":"Navarra","x":0.63,"y":-0.52},{"r":"Navarra","x":0.7,"y":0.35},{"r":"Navarra","x":0.77,"y":6.84},{"r":"Navarra","x":0.84,"y":-1.82},{"r":"Navarra","x":0.91,"y":0.35},{"r":"Navarra","x":0.98,"y":8.14},{"r":"Navarra","x":0.98,"y":-3.12},{"r":"Navarra","x":1.12,"y":1.21},{"r":"Navarra","x":1.26,"y":7.27},{"r":"Navarra","x":1.4,"y":13.94},{"r":"Navarra","x":1.47,"y":1.65},{"r":"Navarra","x":1.54,"y":7.01},{"r":"Navarra","x":1.61,"y":-0.52},{"r":"Navarra","x":1.68,"y":-0.78},{"r":"Navarra","x":1.82,"y":5.97},{"r":"Navarra","x":1.89,"y":0.35},{"r":"Navarra","x":1.92,"y":-4.85},{"r":"Navarra","x":2.04,"y":2.08},{"r":"Navarra","x":2.11,"y":4.68},{"r":"Navarra","x":2.88,"y":-3.55},
{"r":"Pais Vasco","x":-5.15,"y":-6.27},{"r":"Pais Vasco","x":-3.78,"y":-5.92},{"r":"Pais Vasco","x":-3.0,"y":1.46},{"r":"Pais Vasco","x":-2.19,"y":-0.69},{"r":"Pais Vasco","x":-2.13,"y":-2.75},{"r":"Pais Vasco","x":-1.54,"y":-3.69},{"r":"Pais Vasco","x":-1.4,"y":1.29},{"r":"Pais Vasco","x":-1.35,"y":-4.72},{"r":"Pais Vasco","x":-0.99,"y":1.03},{"r":"Pais Vasco","x":-0.83,"y":-3.26},{"r":"Pais Vasco","x":-0.57,"y":4.03},{"r":"Pais Vasco","x":-0.53,"y":2.32},{"r":"Pais Vasco","x":-0.53,"y":-1.55},{"r":"Pais Vasco","x":-0.45,"y":-2.15},{"r":"Pais Vasco","x":-0.37,"y":-0.86},{"r":"Pais Vasco","x":-0.29,"y":0.86},{"r":"Pais Vasco","x":-0.13,"y":4.55},{"r":"Pais Vasco","x":-0.08,"y":2.75},{"r":"Pais Vasco","x":-0.05,"y":0},{"r":"Pais Vasco","x":0.03,"y":-1.29},{"r":"Pais Vasco","x":0.08,"y":-2.15},{"r":"Pais Vasco","x":0.11,"y":0.6},{"r":"Pais Vasco","x":0.2,"y":-0.69},{"r":"Pais Vasco","x":0.24,"y":-2.58},{"r":"Pais Vasco","x":0.28,"y":1.72},{"r":"Pais Vasco","x":0.33,"y":-5.15},{"r":"Pais Vasco","x":0.44,"y":1.12},{"r":"Pais Vasco","x":0.6,"y":1.72},{"r":"Pais Vasco","x":0.73,"y":5.15},{"r":"Pais Vasco","x":0.8,"y":-0.26},{"r":"Pais Vasco","x":0.89,"y":2.58},{"r":"Pais Vasco","x":0.93,"y":1.97},{"r":"Pais Vasco","x":1.17,"y":0.43},{"r":"Pais Vasco","x":1.25,"y":-0.6},{"r":"Pais Vasco","x":1.33,"y":-0.86},{"r":"Pais Vasco","x":1.41,"y":0.43},{"r":"Pais Vasco","x":1.58,"y":2.15},{"r":"Pais Vasco","x":1.66,"y":1.46},{"r":"Pais Vasco","x":1.74,"y":0.86},{"r":"Pais Vasco","x":1.98,"y":-0.69},{"r":"Pais Vasco","x":2.19,"y":2.15},{"r":"Pais Vasco","x":2.27,"y":-1.97},{"r":"Pais Vasco","x":2.39,"y":-0.43},{"r":"Pais Vasco","x":2.52,"y":-0.86},{"r":"Pais Vasco","x":2.55,"y":7.9},{"r":"Pais Vasco","x":3.25,"y":3.61},{"r":"Pais Vasco","x":5.0,"y":3.18},{"r":"Pais Vasco","x":-0.21,"y":-0.43},{"r":"Pais Vasco","x":0.52,"y":-0.26},{"r":"Pais Vasco","x":1.01,"y":1.12},
{"r":"La Rioja","x":-4.32,"y":-1.97},{"r":"La Rioja","x":-3.18,"y":-2.32},{"r":"La Rioja","x":-2.89,"y":-6.44},{"r":"La Rioja","x":-2.04,"y":-7.73},{"r":"La Rioja","x":-1.83,"y":2.58},{"r":"La Rioja","x":-1.78,"y":1.72},{"r":"La Rioja","x":-1.78,"y":-2.58},{"r":"La Rioja","x":-1.7,"y":-4.55},{"r":"La Rioja","x":-1.54,"y":-1.97},{"r":"La Rioja","x":-1.1,"y":6.61},{"r":"La Rioja","x":-1.05,"y":-5.58},{"r":"La Rioja","x":-0.81,"y":0.6},{"r":"La Rioja","x":-0.75,"y":-1.12},{"r":"La Rioja","x":-0.62,"y":-2.58},{"r":"La Rioja","x":-0.53,"y":-3.43},{"r":"La Rioja","x":-0.49,"y":1.97},{"r":"La Rioja","x":-0.45,"y":-3.86},{"r":"La Rioja","x":-0.4,"y":3.0},{"r":"La Rioja","x":-0.37,"y":-3.0},{"r":"La Rioja","x":-0.29,"y":2.58},{"r":"La Rioja","x":-0.21,"y":-0.6},{"r":"La Rioja","x":-0.16,"y":3.86},{"r":"La Rioja","x":0.03,"y":1.12},{"r":"La Rioja","x":0.11,"y":7.9},{"r":"La Rioja","x":0.16,"y":-2.58},{"r":"La Rioja","x":0.23,"y":7.12},{"r":"La Rioja","x":0.28,"y":-3.0},{"r":"La Rioja","x":0.33,"y":5.58},{"r":"La Rioja","x":0.36,"y":7.73},{"r":"La Rioja","x":0.41,"y":-4.29},{"r":"La Rioja","x":0.44,"y":6.01},{"r":"La Rioja","x":0.49,"y":-4.55},{"r":"La Rioja","x":0.52,"y":9.18},{"r":"La Rioja","x":0.55,"y":1.72},{"r":"La Rioja","x":0.6,"y":-1.29},{"r":"La Rioja","x":0.65,"y":0},{"r":"La Rioja","x":0.68,"y":3.18},{"r":"La Rioja","x":0.76,"y":-0.43},{"r":"La Rioja","x":0.85,"y":4.55},{"r":"La Rioja","x":0.93,"y":0},{"r":"La Rioja","x":1.01,"y":6.01},{"r":"La Rioja","x":1.06,"y":9.01},{"r":"La Rioja","x":1.33,"y":-1.46},{"r":"La Rioja","x":1.38,"y":-3.86},{"r":"La Rioja","x":1.49,"y":-4.03},{"r":"La Rioja","x":1.9,"y":1.12},{"r":"La Rioja","x":1.95,"y":-1.97},{"r":"La Rioja","x":2.06,"y":6.01},{"r":"La Rioja","x":2.14,"y":-1.29},{"r":"La Rioja","x":3.52,"y":6.87},{"r":"La Rioja","x":3.52,"y":2.32}
]
},
"concat": [
{"title":{"text":"Andalucia","offset":7},"width":247,"height":131,
 "encoding":{"x":{"field":"x","type":"quantitative","scale":{"domain":[-5.441,5.02864],"nice":false,"zero":false},"axis":{"title":null,"values":[-5.18668,-2.63285,-0.07902,2.47481,5.02864],"labels":false}},
  "y":{"field":"y","type":"quantitative","scale":{"domain":[-15.4316,18.1167],"nice":false,"zero":false},"axis":{"title":null,"values":[-14.6633,-6.4683,1.7267,9.9217,18.1167],"labelExpr":"datum.value > 18 ? '18.1167' : datum.value < -14 ? '-14.6633' : ''"}}},
 "layer":[
  {"data":{"values":[{"x":-5.18668,"x2":5.02864,"y":0}]},"mark":{"type":"rule","color":"#4b1a4b","strokeWidth":1},"encoding":{"x2":{"field":"x2"}}},
  {"data":{"name":"pts"},"transform":[{"filter":{"field":"r","equal":"Andalucia"}}],"mark":{"type":"point","shape":"M-1,0A1,0.85,0,1,0,1,0A1,0.85,0,1,0,-1,0Z","filled":false,"size":115,"strokeWidth":0.9,"opacity":1},
   "encoding":{"color":{"datum":"Estimador directo","type":"nominal","scale":{"domain":["Estimador directo"],"range":["#808080"]},
    "legend":{"title":null,"orient":"none","legendX":-62,"legendY":-65,"symbolType":"M-1,0A1,0.85,0,1,0,1,0A1,0.85,0,1,0,-1,0Z","symbolSize":115,"symbolStrokeWidth":0.9,"labelOffset":12}}}},
  {"data":{"name":"fit"},"transform":[{"filter":{"field":"r","equal":"Andalucia"}}],"mark":{"type":"line","strokeWidth":1.6,"color":"#ff0000"},"encoding":{}},
  {"data":{"name":"fit"},"transform":[{"filter":{"field":"r","equal":"Andalucia"}}],"mark":{"type":"point","filled":true,"shape":"circle","size":4,"opacity":1,"strokeWidth":0},
   "encoding":{"fill":{"datum":"Prediccion directo en regresion","type":"nominal","scale":{"domain":["Prediccion directo en regresion"],"range":["#ff0000"]},
    "legend":{"title":null,"orient":"none","legendX":772,"legendY":-65,"symbolType":"circle","symbolSize":5,"symbolStrokeWidth":0,"labelOffset":10}}}}
 ]},
{"title":{"text":"Aragon","offset":11},"width":247,"height":131,
 "encoding":{"x":{"field":"x","type":"quantitative","scale":{"domain":[-5.441,5.02864],"nice":false,"zero":false},"axis":{"title":null,"values":[-5.18668,-2.63285,-0.07902,2.47481,5.02864],"labels":false}},
  "y":{"field":"y","type":"quantitative","scale":{"domain":[-15.4316,18.1167],"nice":false,"zero":false},"axis":{"title":null,"values":[-14.6633,-6.4683,1.7267,9.9217,18.1167],"labels":false}}},
 "layer":[
  {"data":{"values":[{"x":-5.18668,"x2":5.02864,"y":0}]},"mark":{"type":"rule","color":"#4b1a4b","strokeWidth":1},"encoding":{"x2":{"field":"x2"}}},
  {"data":{"name":"pts"},"transform":[{"filter":{"field":"r","equal":"Aragon"}}],"mark":{"type":"point","shape":"M-1,0A1,0.85,0,1,0,1,0A1,0.85,0,1,0,-1,0Z","filled":false,"size":115,"strokeWidth":0.9,"opacity":1,"color":"#808080"}},
  {"data":{"name":"fit"},"transform":[{"filter":{"field":"r","equal":"Aragon"}}],"mark":{"type":"line","strokeWidth":1.6,"color":"#ff0000"},"encoding":{}}
 ]},
{"title":{"text":"Asturias","offset":11},"width":247,"height":131,
 "encoding":{"x":{"field":"x","type":"quantitative","scale":{"domain":[-5.441,5.02864],"nice":false,"zero":false},"axis":{"title":null,"values":[-5.18668,-2.63285,-0.07902,2.47481,5.02864],"labels":false}},
  "y":{"field":"y","type":"quantitative","scale":{"domain":[-15.4316,18.1167],"nice":false,"zero":false},"axis":{"title":null,"values":[-14.6633,-6.4683,1.7267,9.9217,18.1167],"labels":false}}},
 "layer":[
  {"data":{"values":[{"x":-5.18668,"x2":5.02864,"y":0}]},"mark":{"type":"rule","color":"#4b1a4b","strokeWidth":1},"encoding":{"x2":{"field":"x2"}}},
  {"data":{"name":"pts"},"transform":[{"filter":{"field":"r","equal":"Asturias"}}],"mark":{"type":"point","shape":"M-1,0A1,0.85,0,1,0,1,0A1,0.85,0,1,0,-1,0Z","filled":false,"size":115,"strokeWidth":0.9,"opacity":1,"color":"#808080"}},
  {"data":{"name":"fit"},"transform":[{"filter":{"field":"r","equal":"Asturias"}}],"mark":{"type":"line","strokeWidth":1.6,"color":"#ff0000"},"encoding":{}}
 ]},
{"title":{"text":"Baleares","offset":11},"width":247,"height":131,
 "encoding":{"x":{"field":"x","type":"quantitative","scale":{"domain":[-5.441,5.02864],"nice":false,"zero":false},"axis":{"title":null,"values":[-5.18668,-2.63285,-0.07902,2.47481,5.02864],"labels":false}},
  "y":{"field":"y","type":"quantitative","scale":{"domain":[-15.4316,18.1167],"nice":false,"zero":false},"axis":{"title":null,"values":[-14.6633,-6.4683,1.7267,9.9217,18.1167],"labels":false}}},
 "layer":[
  {"data":{"values":[{"x":-5.18668,"x2":5.02864,"y":0}]},"mark":{"type":"rule","color":"#4b1a4b","strokeWidth":1},"encoding":{"x2":{"field":"x2"}}},
  {"data":{"name":"pts"},"transform":[{"filter":{"field":"r","equal":"Baleares"}}],"mark":{"type":"point","shape":"M-1,0A1,0.85,0,1,0,1,0A1,0.85,0,1,0,-1,0Z","filled":false,"size":115,"strokeWidth":0.9,"opacity":1,"color":"#808080"}},
  {"data":{"name":"fit"},"transform":[{"filter":{"field":"r","equal":"Baleares"}}],"mark":{"type":"line","strokeWidth":1.6,"color":"#ff0000"},"encoding":{}}
 ]},
{"title":{"text":"Canarias","offset":5},"width":247,"height":131,
 "encoding":{"x":{"field":"x","type":"quantitative","scale":{"domain":[-5.441,5.02864],"nice":false,"zero":false},"axis":{"title":null,"values":[-5.18668,-2.63285,-0.07902,2.47481,5.02864],"labels":false}},
  "y":{"field":"y","type":"quantitative","scale":{"domain":[-15.4316,18.1167],"nice":false,"zero":false},"axis":{"title":null,"values":[-14.6633,-6.4683,1.7267,9.9217,18.1167],"labels":false}}},
 "layer":[
  {"data":{"values":[{"x":-5.18668,"x2":5.02864,"y":0}]},"mark":{"type":"rule","color":"#4b1a4b","strokeWidth":1},"encoding":{"x2":{"field":"x2"}}},
  {"data":{"name":"pts"},"transform":[{"filter":{"field":"r","equal":"Canarias"}}],"mark":{"type":"point","shape":"M-1,0A1,0.85,0,1,0,1,0A1,0.85,0,1,0,-1,0Z","filled":false,"size":115,"strokeWidth":0.9,"opacity":1,"color":"#808080"}},
  {"data":{"name":"fit"},"transform":[{"filter":{"field":"r","equal":"Canarias"}}],"mark":{"type":"line","strokeWidth":1.6,"color":"#ff0000"},"encoding":{}}
 ]},
{"title":{"text":"Cantabria","offset":7},"width":247,"height":131,
 "encoding":{"x":{"field":"x","type":"quantitative","scale":{"domain":[-5.441,5.02864],"nice":false,"zero":false},"axis":{"title":null,"values":[-5.18668,-2.63285,-0.07902,2.47481,5.02864],"labels":false}},
  "y":{"field":"y","type":"quantitative","scale":{"domain":[-15.4316,18.1167],"nice":false,"zero":false},"axis":{"title":null,"values":[-14.6633,-6.4683,1.7267,9.9217,18.1167],"labelExpr":"datum.value > 18 ? '18.1167' : datum.value < -14 ? '-14.6633' : ''"}}},
 "layer":[
  {"data":{"values":[{"x":-5.18668,"x2":5.02864,"y":0}]},"mark":{"type":"rule","color":"#4b1a4b","strokeWidth":1},"encoding":{"x2":{"field":"x2"}}},
  {"data":{"name":"pts"},"transform":[{"filter":{"field":"r","equal":"Cantabria"}}],"mark":{"type":"point","shape":"M-1,0A1,0.85,0,1,0,1,0A1,0.85,0,1,0,-1,0Z","filled":false,"size":115,"strokeWidth":0.9,"opacity":1,"color":"#808080"}},
  {"data":{"name":"fit"},"transform":[{"filter":{"field":"r","equal":"Cantabria"}}],"mark":{"type":"line","strokeWidth":1.6,"color":"#ff0000"},"encoding":{}}
 ]},
{"title":{"text":"Castilla-Leon","offset":11},"width":247,"height":131,
 "encoding":{"x":{"field":"x","type":"quantitative","scale":{"domain":[-5.441,5.02864],"nice":false,"zero":false},"axis":{"title":null,"values":[-5.18668,-2.63285,-0.07902,2.47481,5.02864],"labels":false}},
  "y":{"field":"y","type":"quantitative","scale":{"domain":[-15.4316,18.1167],"nice":false,"zero":false},"axis":{"title":null,"values":[-14.6633,-6.4683,1.7267,9.9217,18.1167],"labels":false}}},
 "layer":[
  {"data":{"values":[{"x":-5.18668,"x2":5.02864,"y":0}]},"mark":{"type":"rule","color":"#4b1a4b","strokeWidth":1},"encoding":{"x2":{"field":"x2"}}},
  {"data":{"name":"pts"},"transform":[{"filter":{"field":"r","equal":"Castilla-Leon"}}],"mark":{"type":"point","shape":"M-1,0A1,0.85,0,1,0,1,0A1,0.85,0,1,0,-1,0Z","filled":false,"size":115,"strokeWidth":0.9,"opacity":1,"color":"#808080"}},
  {"data":{"name":"fit"},"transform":[{"filter":{"field":"r","equal":"Castilla-Leon"}}],"mark":{"type":"line","strokeWidth":1.6,"color":"#ff0000"},"encoding":{}}
 ]},
{"title":{"text":"Castilla-Mancha","offset":11},"width":247,"height":131,
 "encoding":{"x":{"field":"x","type":"quantitative","scale":{"domain":[-5.441,5.02864],"nice":false,"zero":false},"axis":{"title":null,"values":[-5.18668,-2.63285,-0.07902,2.47481,5.02864],"labels":false}},
  "y":{"field":"y","type":"quantitative","scale":{"domain":[-15.4316,18.1167],"nice":false,"zero":false},"axis":{"title":null,"values":[-14.6633,-6.4683,1.7267,9.9217,18.1167],"labels":false}}},
 "layer":[
  {"data":{"values":[{"x":-5.18668,"x2":5.02864,"y":0}]},"mark":{"type":"rule","color":"#4b1a4b","strokeWidth":1},"encoding":{"x2":{"field":"x2"}}},
  {"data":{"name":"pts"},"transform":[{"filter":{"field":"r","equal":"Castilla-Mancha"}}],"mark":{"type":"point","shape":"M-1,0A1,0.85,0,1,0,1,0A1,0.85,0,1,0,-1,0Z","filled":false,"size":115,"strokeWidth":0.9,"opacity":1,"color":"#808080"}},
  {"data":{"name":"fit"},"transform":[{"filter":{"field":"r","equal":"Castilla-Mancha"}}],"mark":{"type":"line","strokeWidth":1.6,"color":"#ff0000"},"encoding":{}}
 ]},
{"title":{"text":"Catalunya","offset":11},"width":247,"height":131,
 "encoding":{"x":{"field":"x","type":"quantitative","scale":{"domain":[-5.441,5.02864],"nice":false,"zero":false},"axis":{"title":null,"values":[-5.18668,-2.63285,-0.07902,2.47481,5.02864],"labels":false}},
  "y":{"field":"y","type":"quantitative","scale":{"domain":[-15.4316,18.1167],"nice":false,"zero":false},"axis":{"title":null,"values":[-14.6633,-6.4683,1.7267,9.9217,18.1167],"labels":false}}},
 "layer":[
  {"data":{"values":[{"x":-5.18668,"x2":5.02864,"y":0}]},"mark":{"type":"rule","color":"#4b1a4b","strokeWidth":1},"encoding":{"x2":{"field":"x2"}}},
  {"data":{"name":"pts"},"transform":[{"filter":{"field":"r","equal":"Catalunya"}}],"mark":{"type":"point","shape":"M-1,0A1,0.85,0,1,0,1,0A1,0.85,0,1,0,-1,0Z","filled":false,"size":115,"strokeWidth":0.9,"opacity":1,"color":"#808080"}},
  {"data":{"name":"fit"},"transform":[{"filter":{"field":"r","equal":"Catalunya"}}],"mark":{"type":"line","strokeWidth":1.6,"color":"#ff0000"},"encoding":{}}
 ]},
{"title":{"text":"Com. Valenciana","offset":11},"width":247,"height":131,
 "encoding":{"x":{"field":"x","type":"quantitative","scale":{"domain":[-5.441,5.02864],"nice":false,"zero":false},"axis":{"title":null,"values":[-5.18668,-2.63285,-0.07902,2.47481,5.02864],"labels":false}},
  "y":{"field":"y","type":"quantitative","scale":{"domain":[-15.4316,18.1167],"nice":false,"zero":false},"axis":{"title":null,"values":[-14.6633,-6.4683,1.7267,9.9217,18.1167],"labels":false}}},
 "layer":[
  {"data":{"values":[{"x":-5.18668,"x2":5.02864,"y":0}]},"mark":{"type":"rule","color":"#4b1a4b","strokeWidth":1},"encoding":{"x2":{"field":"x2"}}},
  {"data":{"name":"pts"},"transform":[{"filter":{"field":"r","equal":"Com. Valenciana"}}],"mark":{"type":"point","shape":"M-1,0A1,0.85,0,1,0,1,0A1,0.85,0,1,0,-1,0Z","filled":false,"size":115,"strokeWidth":0.9,"opacity":1,"color":"#808080"}},
  {"data":{"name":"fit"},"transform":[{"filter":{"field":"r","equal":"Com. Valenciana"}}],"mark":{"type":"line","strokeWidth":1.6,"color":"#ff0000"},"encoding":{}}
 ]},
{"title":{"text":"Extremadura","offset":7},"width":247,"height":131,
 "encoding":{"x":{"field":"x","type":"quantitative","scale":{"domain":[-5.441,5.02864],"nice":false,"zero":false},"axis":{"title":null,"values":[-5.18668,-2.63285,-0.07902,2.47481,5.02864],"labels":false}},
  "y":{"field":"y","type":"quantitative","scale":{"domain":[-15.4316,18.1167],"nice":false,"zero":false},"axis":{"title":null,"values":[-14.6633,-6.4683,1.7267,9.9217,18.1167],"labelExpr":"datum.value > 18 ? '18.1167' : datum.value < -14 ? '-14.6633' : ''"}}},
 "layer":[
  {"data":{"values":[{"x":-5.18668,"x2":5.02864,"y":0}]},"mark":{"type":"rule","color":"#4b1a4b","strokeWidth":1},"encoding":{"x2":{"field":"x2"}}},
  {"data":{"name":"pts"},"transform":[{"filter":{"field":"r","equal":"Extremadura"}}],"mark":{"type":"point","shape":"M-1,0A1,0.85,0,1,0,1,0A1,0.85,0,1,0,-1,0Z","filled":false,"size":115,"strokeWidth":0.9,"opacity":1,"color":"#808080"}},
  {"data":{"name":"fit"},"transform":[{"filter":{"field":"r","equal":"Extremadura"}}],"mark":{"type":"line","strokeWidth":1.6,"color":"#ff0000"},"encoding":{}}
 ]},
{"title":{"text":"Galicia","offset":11},"width":247,"height":131,
 "encoding":{"x":{"field":"x","type":"quantitative","scale":{"domain":[-5.441,5.02864],"nice":false,"zero":false},"axis":{"title":null,"values":[-5.18668,-2.63285,-0.07902,2.47481,5.02864],"labels":false}},
  "y":{"field":"y","type":"quantitative","scale":{"domain":[-15.4316,18.1167],"nice":false,"zero":false},"axis":{"title":null,"values":[-14.6633,-6.4683,1.7267,9.9217,18.1167],"labels":false}}},
 "layer":[
  {"data":{"values":[{"x":-5.18668,"x2":5.02864,"y":0}]},"mark":{"type":"rule","color":"#4b1a4b","strokeWidth":1},"encoding":{"x2":{"field":"x2"}}},
  {"data":{"name":"pts"},"transform":[{"filter":{"field":"r","equal":"Galicia"}}],"mark":{"type":"point","shape":"M-1,0A1,0.85,0,1,0,1,0A1,0.85,0,1,0,-1,0Z","filled":false,"size":115,"strokeWidth":0.9,"opacity":1,"color":"#808080"}},
  {"data":{"name":"fit"},"transform":[{"filter":{"field":"r","equal":"Galicia"}}],"mark":{"type":"line","strokeWidth":1.6,"color":"#ff0000"},"encoding":{}}
 ]},
{"title":{"text":"Madrid","offset":11},"width":247,"height":131,
 "encoding":{"x":{"field":"x","type":"quantitative","scale":{"domain":[-5.441,5.02864],"nice":false,"zero":false},"axis":{"title":null,"values":[-5.18668,-2.63285,-0.07902,2.47481,5.02864],"labelExpr":"datum.value < -5 ? '-5.18668' : datum.value > 5 ? '5.02864' : ''"}},
  "y":{"field":"y","type":"quantitative","scale":{"domain":[-15.4316,18.1167],"nice":false,"zero":false},"axis":{"title":null,"values":[-14.6633,-6.4683,1.7267,9.9217,18.1167],"labels":false}}},
 "layer":[
  {"data":{"values":[{"x":-5.18668,"x2":5.02864,"y":0}]},"mark":{"type":"rule","color":"#4b1a4b","strokeWidth":1},"encoding":{"x2":{"field":"x2"}}},
  {"data":{"name":"pts"},"transform":[{"filter":{"field":"r","equal":"Madrid"}}],"mark":{"type":"point","shape":"M-1,0A1,0.85,0,1,0,1,0A1,0.85,0,1,0,-1,0Z","filled":false,"size":115,"strokeWidth":0.9,"opacity":1,"color":"#808080"}},
  {"data":{"name":"fit"},"transform":[{"filter":{"field":"r","equal":"Madrid"}}],"mark":{"type":"line","strokeWidth":1.6,"color":"#ff0000"},"encoding":{}}
 ]},
{"title":{"text":"Murcia","offset":11},"width":247,"height":131,
 "encoding":{"x":{"field":"x","type":"quantitative","scale":{"domain":[-5.441,5.02864],"nice":false,"zero":false},"axis":{"title":null,"values":[-5.18668,-2.63285,-0.07902,2.47481,5.02864],"labelExpr":"datum.value < -5 ? '-5.18668' : datum.value > 5 ? '5.02864' : ''"}},
  "y":{"field":"y","type":"quantitative","scale":{"domain":[-15.4316,18.1167],"nice":false,"zero":false},"axis":{"title":null,"values":[-14.6633,-6.4683,1.7267,9.9217,18.1167],"labels":false}}},
 "layer":[
  {"data":{"values":[{"x":-5.18668,"x2":5.02864,"y":0}]},"mark":{"type":"rule","color":"#4b1a4b","strokeWidth":1},"encoding":{"x2":{"field":"x2"}}},
  {"data":{"name":"pts"},"transform":[{"filter":{"field":"r","equal":"Murcia"}}],"mark":{"type":"point","shape":"M-1,0A1,0.85,0,1,0,1,0A1,0.85,0,1,0,-1,0Z","filled":false,"size":115,"strokeWidth":0.9,"opacity":1,"color":"#808080"}},
  {"data":{"name":"fit"},"transform":[{"filter":{"field":"r","equal":"Murcia"}}],"mark":{"type":"line","strokeWidth":1.6,"color":"#ff0000"},"encoding":{}}
 ]},
{"title":{"text":"Navarra","offset":11},"width":247,"height":131,
 "encoding":{"x":{"field":"x","type":"quantitative","scale":{"domain":[-5.441,5.02864],"nice":false,"zero":false},"axis":{"title":null,"values":[-5.18668,-2.63285,-0.07902,2.47481,5.02864],"labelExpr":"datum.value < -5 ? '-5.18668' : datum.value > 5 ? '5.02864' : ''"}},
  "y":{"field":"y","type":"quantitative","scale":{"domain":[-15.4316,18.1167],"nice":false,"zero":false},"axis":{"title":null,"values":[-14.6633,-6.4683,1.7267,9.9217,18.1167],"labels":false}}},
 "layer":[
  {"data":{"values":[{"x":-5.18668,"x2":5.02864,"y":0}]},"mark":{"type":"rule","color":"#4b1a4b","strokeWidth":1},"encoding":{"x2":{"field":"x2"}}},
  {"data":{"name":"pts"},"transform":[{"filter":{"field":"r","equal":"Navarra"}}],"mark":{"type":"point","shape":"M-1,0A1,0.85,0,1,0,1,0A1,0.85,0,1,0,-1,0Z","filled":false,"size":115,"strokeWidth":0.9,"opacity":1,"color":"#808080"}},
  {"data":{"name":"fit"},"transform":[{"filter":{"field":"r","equal":"Navarra"}}],"mark":{"type":"line","strokeWidth":1.6,"color":"#ff0000"},"encoding":{}}
 ]},
{"title":{"text":"Pais Vasco","offset":7},"width":247,"height":131,
 "encoding":{"x":{"field":"x","type":"quantitative","scale":{"domain":[-5.441,5.02864],"nice":false,"zero":false},"axis":{"title":null,"values":[-5.18668,-2.63285,-0.07902,2.47481,5.02864],"labelExpr":"datum.value < -5 ? '-5.18668' : datum.value > 5 ? '5.02864' : ''"}},
  "y":{"field":"y","type":"quantitative","scale":{"domain":[-15.4316,18.1167],"nice":false,"zero":false},"axis":{"title":null,"values":[-14.6633,-6.4683,1.7267,9.9217,18.1167],"labelExpr":"datum.value > 18 ? '18.1167' : datum.value < -14 ? '-14.6633' : ''"}}},
 "layer":[
  {"data":{"values":[{"x":-5.18668,"x2":5.02864,"y":0}]},"mark":{"type":"rule","color":"#4b1a4b","strokeWidth":1},"encoding":{"x2":{"field":"x2"}}},
  {"data":{"name":"pts"},"transform":[{"filter":{"field":"r","equal":"Pais Vasco"}}],"mark":{"type":"point","shape":"M-1,0A1,0.85,0,1,0,1,0A1,0.85,0,1,0,-1,0Z","filled":false,"size":115,"strokeWidth":0.9,"opacity":1,"color":"#808080"}},
  {"data":{"name":"fit"},"transform":[{"filter":{"field":"r","equal":"Pais Vasco"}}],"mark":{"type":"line","strokeWidth":1.6,"color":"#ff0000"},"encoding":{}}
 ]},
{"title":{"text":"La Rioja","offset":11},"width":247,"height":131,
 "encoding":{"x":{"field":"x","type":"quantitative","scale":{"domain":[-5.441,5.02864],"nice":false,"zero":false},"axis":{"title":null,"values":[-5.18668,-2.63285,-0.07902,2.47481,5.02864],"labelExpr":"datum.value < -5 ? '-5.18668' : datum.value > 5 ? '5.02864' : ''"}},
  "y":{"field":"y","type":"quantitative","scale":{"domain":[-15.4316,18.1167],"nice":false,"zero":false},"axis":{"title":null,"values":[-14.6633,-6.4683,1.7267,9.9217,18.1167],"labels":false}}},
 "layer":[
  {"data":{"values":[{"x":-5.18668,"x2":5.02864,"y":0}]},"mark":{"type":"rule","color":"#4b1a4b","strokeWidth":1},"encoding":{"x2":{"field":"x2"}}},
  {"data":{"name":"pts"},"transform":[{"filter":{"field":"r","equal":"La Rioja"}}],"mark":{"type":"point","shape":"M-1,0A1,0.85,0,1,0,1,0A1,0.85,0,1,0,-1,0Z","filled":false,"size":115,"strokeWidth":0.9,"opacity":1,"color":"#808080"}},
  {"data":{"name":"fit"},"transform":[{"filter":{"field":"r","equal":"La Rioja"}}],"mark":{"type":"line","strokeWidth":1.6,"color":"#ff0000"},"encoding":{}}
 ]}
]
}
